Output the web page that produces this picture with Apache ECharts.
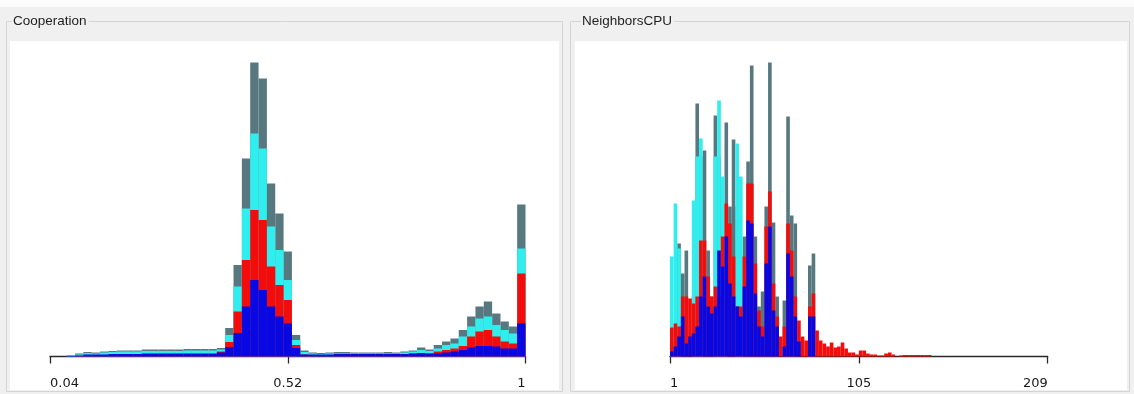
<!DOCTYPE html>
<html>
<head>
<meta charset="utf-8">
<script src="https://cdn.jsdelivr.net/npm/echarts@6/dist/echarts.min.js"></script>
<style>
html,body{margin:0;padding:0;background:#f0f0f0;}
#c{width:1134px;height:394px;}
</style>
</head>
<body>
<div id="c"></div>
<script>
// ---- Cooperation histogram: 57 bins from 0.04 to 1 ----
const coopRange = [0.04, 1];
const coopBinCount = 57;
const coopTicks = [0.04, 0.52, 1];
const coopGray = [0,0,1.5,3,4.5,4,5,5.5,6,6,6,7,7,7,7,7,7.5,7.5,7.5,7.5,8.5,
  28.5,91.5,198,294,278,173,143,105,21.5,
  6,4,3.5,4,4.5,4.5,4,4,4,4,4.5,4,5,6,9,
  7,11.5,15,18,26.5,40,50,55,43,35,30,152];
const coopCyan = [0,0,1,2,3.5,3,4,4.5,5,5,5,5.5,5.5,5.5,5.5,5.5,6,6,6,6,7,
  21.5,70,148,223,208,130,106.5,76.5,16.5,
  4.5,3,2.5,3,3,3,3,3,3,3,3,3,4,5,6.5,
  5.5,8,11.5,13,20,30,38,40,31.5,26.5,23,108];
const coopRed = [0,0,0,0.5,1,1,1,1.5,1.5,1.5,1.5,2,2,2,2,2,2,2,2,2,5,
  14.5,45,96.5,146.5,136.5,90,71.5,56.5,11.5,
  2,1.5,1.5,1.5,2,2,2,2,2,2,2,2,2,3,3,
  3,5,6.5,8,10.5,20,25,26.5,20,15,13,83];
const coopBlue = [0,0,0.5,1,2,2,2,2.5,2.5,2.5,2.5,3,3,3,3,3,3,3,3,3,4,
  9.5,23.5,50,76.5,66.5,50,40,33,8.5,
  2,2,2,2,2.5,2.5,2.5,2.5,2.5,2.5,2.5,2.5,2.5,3,3.5,
  3,3,4,5,6.5,9,10.5,10.5,10,8,8,33];

// ---- NeighborsCPU histogram: bins of width 2 starting at 1 ----
const cpuRange = [1, 209];
const cpuBinWidth = 2;
const cpuTicks = [1, 105, 209];
const cpuGray = [0,0,113,83,106,0,60,253,200,206,
  106,60,241,200,100,234,150,217,150,100,
  120,195,291,120,50,65,150,294,134,60,
  0,56,240,141,133,0,0,0,91,103,0,
  0,0,0,0,0,0,0,0,0,0,0,0,0,0,0,0,0,0,0,0,0,0,0,0,0,0,0,0,0,0,0,0];
const cpuCyan = [100,153,108,0,0,0,156,200,218,0,
  0,0,200,256,180,150,0,0,213,180];
const cpuRed = [29,33,30,60,60,58,53,60,116,116,
  80,60,70,60,120,153,133,100,50,50,
  100,173,173,93,46,30,130,165,73,40,
  20,30,133,106,60,36,20,16,50,63,26,
  16,13,10,14,9,10,14,8,4,4,2,6,6,3,2,2,1,1,3,4,2,0,1,1.5,1.5,1.5,1.5,1.5,1.5,1.5,1.5,0];
const cpuBlue = [5,10,20,40,13,20,23,30,60,80,
  50,43,50,106,90,120,73,60,50,40,
  70,136,133,63,30,20,93,130,46,30,
  0,10,103,80,40,15,0,0,40,40,0];

const penNames = ['gray','cyan','red','blue'];
const penColors = ['#587880','#30eeee','#f20c0c','#0808e2'];

function bins(values, start, width){
  return values.map((v,i)=>[start+i*width, start+(i+1)*width, v]);
}
function histSeries(values, start, width, idx, color, name){
  return {
    type:'custom', name:name, xAxisIndex:idx, yAxisIndex:idx,
    encode:{x:[0,1], y:2},
    data: bins(values, start, width),
    silent:true,
    renderItem:function(params, api){
      const p0 = api.coord([api.value(0), 0]);
      const p1 = api.coord([api.value(1), api.value(2)]);
      return {type:'rect', shape:{x:p0[0], y:p1[1], width:p1[0]-p0[0], height:p0[1]-p1[1]},
        style:{fill:color, stroke:null}};
    }
  };
}
const coopW = (coopRange[1]-coopRange[0])/coopBinCount;
const series = [];
[coopGray, coopCyan, coopRed, coopBlue].forEach((arr,i)=>series.push(histSeries(arr, coopRange[0], coopW, 0, penColors[i], 'coop-'+penNames[i])));
[cpuGray, cpuCyan, cpuRed, cpuBlue].forEach((arr,i)=>series.push(histSeries(arr, cpuRange[0], cpuBinWidth, 1, penColors[i], 'cpu-'+penNames[i])));

function xAxisCfg(idx, range, ticks){
  return {
    type:'value', gridIndex:idx, min:range[0], max:range[1], offset:4.5,
    splitLine:{show:false},
    axisLine:{show:true, lineStyle:{color:'#2a2a2a', width:1.3}},
    axisTick:{show:true, inside:false, length:7, customValues:ticks, lineStyle:{color:'#2a2a2a', width:1.3}},
    axisLabel:{show:true, customValues:ticks, margin:16, color:'#1a1a1a', fontSize:13,
      fontFamily:'"DejaVu Sans", sans-serif', alignMinLabel:'left', alignMaxLabel:'right',
      formatter:v=>String(v)}
  };
}
function yAxisCfg(idx){
  return {type:'value', gridIndex:idx, min:0, max:300, show:false};
}

const chart = echarts.init(document.getElementById('c'), null, {renderer:'canvas'});
chart.setOption({
  animation:false,
  backgroundColor:'#f0f0f0',
  graphic:[
    {type:'rect', z:-10, shape:{x:0,y:0,width:1134,height:7}, style:{fill:'#fbfbfb'}},
    {type:'rect', z:-9, shape:{x:6.5,y:21.5,width:556,height:370}, style:{fill:'#f0f0f0', stroke:'#d4d4d4', lineWidth:1}},
    {type:'rect', z:-8, shape:{x:10,y:41,width:549,height:349}, style:{fill:'#ffffff'}},
    {type:'rect', z:-9, shape:{x:570.5,y:21.5,width:559,height:370}, style:{fill:'#f0f0f0', stroke:'#d4d4d4', lineWidth:1}},
    {type:'rect', z:-8, shape:{x:575,y:41,width:552,height:349}, style:{fill:'#ffffff'}},
    {type:'text', z:-7, x:12, y:21, style:{text:'Cooperation', fill:'#1e1e1e', font:'13.5px "Liberation Sans", Arial, sans-serif',
      verticalAlign:'middle', backgroundColor:'#f0f0f0', padding:[0,2,0,1]}},
    {type:'text', z:-7, x:581, y:21, style:{text:'NeighborsCPU', fill:'#1e1e1e', font:'13.5px "Liberation Sans", Arial, sans-serif',
      verticalAlign:'middle', backgroundColor:'#f0f0f0', padding:[0,2,0,1]}}
  ],
  grid:[
    {left:50, width:475.5, top:56.5, height:300},
    {left:670, width:377.7, top:56.5, height:300}
  ],
  xAxis:[xAxisCfg(0, coopRange, coopTicks), xAxisCfg(1, cpuRange, cpuTicks)],
  yAxis:[yAxisCfg(0), yAxisCfg(1)],
  series:series
});
</script>
</body>
</html>
